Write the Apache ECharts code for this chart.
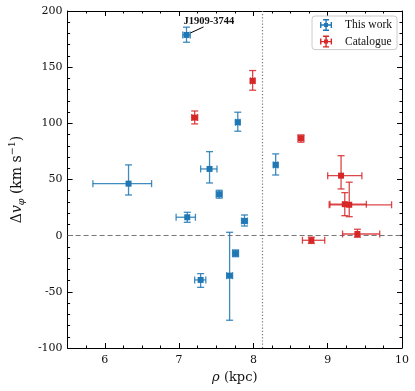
<!DOCTYPE html>
<html>
<head>
<meta charset="utf-8">
<script src="https://cdn.jsdelivr.net/npm/echarts@6/dist/echarts.min.js"></script>
<style>
  html, body { margin: 0; padding: 0; background: #fff; }
  #chart { width: 415px; height: 391px; }
</style>
</head>
<body>
<div id="chart"></div>
<script>
// This work (blue)
var workRho   = [7.10, 6.32, 7.41, 7.54, 7.79, 8.30, 7.11, 7.88, 7.76, 7.68, 7.29];
var workDv    = [178.7, 46.3, 59.4, 36.9, 101.0, 63.0, 16.4, 13.1, -15.7, -35.6, -39.4];
var workRhoLo = [0.05, 0.48, 0.12, 0.04, 0.03, 0.03, 0.15, 0.04, 0.04, 0.04, 0.08];
var workRhoHi = [0.05, 0.31, 0.10, 0.04, 0.03, 0.03, 0.11, 0.04, 0.04, 0.04, 0.07];
var workDvLo  = [6.5, 10.1, 12.5, 3.5, 8.0, 9.0, 4.5, 4.5, 3.0, 39.7, 6.6];
var workDvHi  = [6.9, 16.7, 15.4, 3.5, 8.9, 9.8, 4.4, 5.3, 3.0, 38.6, 5.6];

// Catalogue (red)
var catRho   = [7.21, 7.99, 8.64, 9.18, 9.23, 9.29, 8.78, 9.40];
var catDv    = [105.1, 137.8, 86.7, 53.4, 28.0, 27.5, -4.1, 1.5];
var catRhoLo = [0.04, 0.03, 0.04, 0.18, 0.20, 0.27, 0.12, 0.20];
var catRhoHi = [0.04, 0.03, 0.04, 0.28, 0.29, 0.57, 0.18, 0.30];
var catDvLo  = [5.6, 8.3, 3.5, 11.8, 10.2, 10.6, 2.8, 2.9];
var catDvHi  = [5.9, 9.2, 3.0, 17.8, 10.3, 20.1, 2.8, 4.2];

var sunRho = 8.122;      // vertical dotted line
var labelName = 'J1909-3744';
var labelIndex = 0;      // which blue point gets the annotation

var blue = '#1f77b4';
var red = '#d62728';
var serif = '"Liberation Serif", "DejaVu Serif", serif';
var wide = '"DejaVu Serif", "Liberation Serif", serif';

function rows(x, y, xl, xh, yl, yh) {
  var out = [];
  for (var i = 0; i < x.length; i++) out.push([x[i], y[i], xl[i], xh[i], yl[i], yh[i]]);
  return out;
}

function errRender(color) {
  return function (params, api) {
    var x = api.value(0), y = api.value(1);
    var l = api.coord([x - api.value(2), y]);
    var r = api.coord([x + api.value(3), y]);
    var b = api.coord([x, y - api.value(4)]);
    var t = api.coord([x, y + api.value(5)]);
    var c = 3.5;
    var st = { stroke: color, lineWidth: 1.3, opacity: 0.85 };
    function seg(x1, y1, x2, y2) {
      return { type: 'line', shape: { x1: x1, y1: y1, x2: x2, y2: y2 }, style: st };
    }
    return {
      type: 'group',
      children: [
        seg(l[0], l[1], r[0], r[1]),
        seg(b[0], b[1], t[0], t[1]),
        seg(l[0], l[1] - c, l[0], l[1] + c),
        seg(r[0], r[1] - c, r[0], r[1] + c),
        seg(t[0] - c, t[1], t[0] + c, t[1]),
        seg(b[0] - c, b[1], b[0] + c, b[1])
      ]
    };
  };
}

var workData = rows(workRho, workDv, workRhoLo, workRhoHi, workDvLo, workDvHi);
var catData = rows(catRho, catDv, catRhoLo, catRhoHi, catDvLo, catDvHi);

var icon = 'path://M4 4h4v4h-4z M0 5.3h12v1.4h-12z M5.3 0h1.4v12h-1.4z M0 3h1.4v6h-1.4z M10.6 3h1.4v6h-1.4z M3 0h6v1.4h-6z M3 10.6h6v1.4h-6z';

function xAxisOpt(pos, labels) {
  return {
    type: 'value', position: pos, min: 5.5, max: 10,
    minInterval: 1, maxInterval: 1,
    axisLine: { show: true, onZero: false, lineStyle: { color: '#000', width: 1 } },
    axisTick: { show: true, inside: true, length: 5, lineStyle: { color: '#000' } },
    minorTick: { show: true, splitNumber: 4, length: 2.5, lineStyle: { color: '#000' } },
    splitLine: { show: false },
    axisLabel: { show: labels, showMinLabel: false, color: '#111', fontSize: 11, fontFamily: wide, margin: 7 },
    name: labels ? '{i|ρ}{t| (kpc)}' : '',
    nameLocation: 'middle', nameGap: 21,
    nameTextStyle: {
      color: '#111',
      rich: {
        i: { fontFamily: wide, fontSize: 13, fontStyle: 'italic', color: '#111' },
        t: { fontFamily: wide, fontSize: 13, color: '#111' }
      }
    }
  };
}

function yAxisOpt(pos, labels) {
  return {
    type: 'value', position: pos, min: -100, max: 200, interval: 50,
    axisLine: { show: true, onZero: false, lineStyle: { color: '#000', width: 1 } },
    axisTick: { show: true, inside: true, length: 5, lineStyle: { color: '#000' } },
    minorTick: { show: true, splitNumber: 5, length: 2.5, lineStyle: { color: '#000' } },
    splitLine: { show: false },
    axisLabel: { show: labels, color: '#111', fontSize: 11, fontFamily: wide, margin: 5 },
    name: labels ? '{d|Δ}{v|v}{s|φ}{t| (km s}{p|−1}{t|)}' : '',
    nameLocation: 'middle', nameGap: 38,
    nameTextStyle: {
      color: '#111',
      rich: {
        d: { fontFamily: wide, fontSize: 14, color: '#111', lineHeight: 19, verticalAlign: 'middle' },
        v: { fontFamily: wide, fontSize: 14, fontStyle: 'italic', color: '#111', lineHeight: 19, verticalAlign: 'middle' },
        s: { fontFamily: wide, fontSize: 9.5, fontStyle: 'italic', color: '#111', lineHeight: 19, verticalAlign: 'bottom' },
        t: { fontFamily: wide, fontSize: 14, color: '#111', lineHeight: 19, verticalAlign: 'middle' },
        p: { fontFamily: wide, fontSize: 9.5, color: '#111', lineHeight: 19, verticalAlign: 'top' }
      }
    }
  };
}

var chart = echarts.init(document.getElementById('chart'), null, { renderer: 'canvas' });

chart.setOption({
  animation: false,
  backgroundColor: '#fff',
  grid: { left: 62, right: 13, top: 11, bottom: 43, containLabel: false },
  xAxis: [xAxisOpt('bottom', true), xAxisOpt('top', false)],
  yAxis: [yAxisOpt('left', true), yAxisOpt('right', false)],
  legend: {
    orient: 'vertical', right: 18, top: 16,
    padding: [3, 5, 2, 8], itemGap: 4.6, itemWidth: 12, itemHeight: 12,
    backgroundColor: '#fff', borderColor: '#ccc', borderWidth: 1, borderRadius: 3,
    textStyle: { fontFamily: serif, fontSize: 11.5, color: '#111', padding: [0, 0, 0, 8] },
    data: [
      { name: 'This work', icon: icon, itemStyle: { color: blue } },
      { name: 'Catalogue', icon: icon, itemStyle: { color: red } }
    ]
  },
  series: [
    {
      name: 'This work', type: 'custom', renderItem: errRender(blue),
      data: workData, encode: { x: 0, y: 1 }, z: 2
    },
    {
      name: 'Catalogue', type: 'custom', renderItem: errRender(red),
      data: catData, encode: { x: 0, y: 1 }, z: 2
    },
    {
      name: 'This work', type: 'scatter', symbol: 'rect', symbolSize: 6,
      itemStyle: { color: blue, opacity: 1 },
      data: workData.map(function (d) { return [d[0], d[1]]; }), z: 3,
      markLine: {
        silent: true, symbol: 'none', label: { show: false }, z: 1,
        data: [
          { xAxis: sunRho, lineStyle: { color: '#777', type: [1.2, 2], width: 1.2 } },
          { yAxis: 0, lineStyle: { color: '#777', type: [5, 3], width: 1.2 } }
        ]
      }
    },
    {
      name: 'Catalogue', type: 'scatter', symbol: 'rect', symbolSize: 6,
      itemStyle: { color: red, opacity: 1 },
      data: catData.map(function (d) { return [d[0], d[1]]; }), z: 3
    }
  ]
});

// annotation for the labelled pulsar
var p = chart.convertToPixel({ xAxisIndex: 0, yAxisIndex: 0 }, [workRho[labelIndex], workDv[labelIndex]]);
chart.setOption({
  graphic: [
    {
      type: 'line', z: 10,
      shape: { x1: p[0] + 4, y1: p[1] - 2, x2: p[0] + 17, y2: p[1] - 8 },
      style: { stroke: '#000', lineWidth: 1 }
    },
    {
      type: 'text', z: 10, x: p[0] - 3, y: p[1] - 14,
      style: {
        text: labelName, fontFamily: serif, fontWeight: 'bold', fontSize: 10.5,
        fill: '#111', textVerticalAlign: 'middle', verticalAlign: 'middle'
      }
    }
  ]
});
</script>
</body>
</html>
